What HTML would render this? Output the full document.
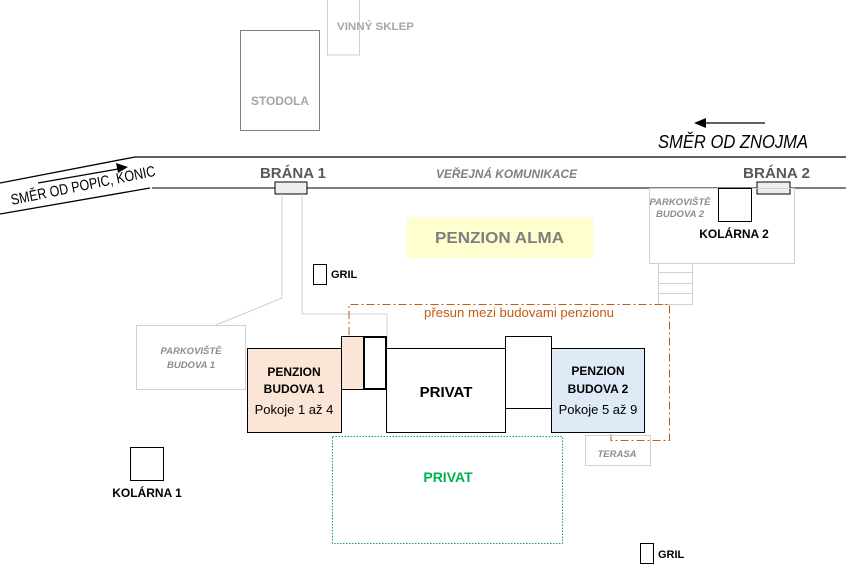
<!DOCTYPE html>
<html><head><meta charset="utf-8"><style>
html,body{margin:0;padding:0;background:#fff;width:846px;height:585px;overflow:hidden}
svg{display:block;font-family:"Liberation Sans",sans-serif}
</style></head><body>
<svg width="846" height="585" viewBox="0 0 846 585" xmlns="http://www.w3.org/2000/svg">
<rect x="240.5" y="30.5" width="79" height="100" fill="none" stroke="#7f7f7f" stroke-width="1"/>
<text x="251" y="105" font-size="12" font-weight="bold" fill="#a6a6a6" textLength="58" lengthAdjust="spacingAndGlyphs">STODOLA</text>
<rect x="327.5" y="-2" width="32" height="57" fill="none" stroke="#d0d0d0"/>
<text x="337" y="30" font-size="11" font-weight="bold" fill="#a6a6a6" textLength="77" lengthAdjust="spacingAndGlyphs">VINNÝ SKLEP</text>

<polyline points="0,183 135,157 846,157" fill="none" stroke="#000" stroke-width="1.3"/>
<line x1="0" y1="214" x2="150" y2="188" stroke="#000" stroke-width="1.3"/>
<line x1="152" y1="188" x2="846" y2="188" stroke="#7f7f7f" stroke-width="2"/>
<line x1="38" y1="183" x2="118" y2="169" stroke="#000" stroke-width="1.3"/>
<polygon points="128,167 116,163 118,173" fill="#000"/>
<text transform="translate(12,205) rotate(-11.5)" font-size="15" fill="#000" textLength="147" lengthAdjust="spacingAndGlyphs">SMĚR OD POPIC, KONIC</text>
<line x1="703" y1="123" x2="765" y2="123" stroke="#000" stroke-width="1.3"/>
<polygon points="694,123 706,118 706,128" fill="#000"/>
<text x="658" y="148" font-size="18" font-style="italic" fill="#000" textLength="150" lengthAdjust="spacingAndGlyphs">SMĚR OD ZNOJMA</text>
<text x="436" y="178" font-size="12" font-style="italic" font-weight="bold" fill="#7f7f7f" textLength="141" lengthAdjust="spacingAndGlyphs">VEŘEJNÁ KOMUNIKACE</text>

<text x="260" y="178" font-size="15" font-weight="bold" fill="#595959" textLength="66" lengthAdjust="spacingAndGlyphs">BRÁNA 1</text>
<rect x="275" y="182" width="32" height="12" fill="#eee" stroke="#000"/>
<text x="743" y="178" font-size="15" font-weight="bold" fill="#595959" textLength="67" lengthAdjust="spacingAndGlyphs">BRÁNA 2</text>
<rect x="757" y="182" width="33" height="12" fill="#eee" stroke="#000"/>

<polyline points="282,194 282,298 216,325" fill="none" stroke="#d0d0d0"/>
<polyline points="302,194 302,314 387,314 387,348" fill="none" stroke="#d0d0d0"/>

<rect x="407" y="217" width="186" height="41" fill="#fefecf"/>
<text x="435" y="243" font-size="16" font-weight="bold" fill="#7f7f7f" textLength="129" lengthAdjust="spacingAndGlyphs">PENZION ALMA</text>

<rect x="649.5" y="188.5" width="145" height="75" fill="none" stroke="#d0d0d0"/>
<text x="680" y="205" text-anchor="middle" font-size="9.5" font-style="italic" font-weight="bold" fill="#8c8c8c">PARKOVIŠTĚ</text>
<text x="680" y="217" text-anchor="middle" font-size="9.5" font-style="italic" font-weight="bold" fill="#8c8c8c">BUDOVA 2</text>
<rect x="718.5" y="188.5" width="33" height="33" fill="#fff" stroke="#000"/>
<text x="734" y="238" text-anchor="middle" font-size="12" font-weight="bold" fill="#000">KOLÁRNA 2</text>
<rect x="658.5" y="263.5" width="34" height="41" fill="none" stroke="#d0d0d0"/>
<line x1="658" y1="272.5" x2="692" y2="272.5" stroke="#d0d0d0"/>
<line x1="658" y1="283.5" x2="692" y2="283.5" stroke="#d0d0d0"/>
<line x1="658" y1="293.5" x2="692" y2="293.5" stroke="#d0d0d0"/>

<rect x="313.5" y="264.5" width="13" height="20" fill="none" stroke="#000"/>
<text x="331" y="278" font-size="11" font-weight="bold" fill="#000">GRIL</text>
<rect x="640.5" y="543.5" width="13" height="20" fill="none" stroke="#000"/>
<text x="658" y="558" font-size="11" font-weight="bold" fill="#000">GRIL</text>

<polyline points="349,335 349,304.5 669.5,304.5 669.5,440.5 611,440.5 611,433" fill="none" stroke="#c55a11" stroke-width="1" stroke-dasharray="8,3,2,3"/>
<text x="424" y="317" font-size="13" fill="#c55a11" textLength="190" lengthAdjust="spacingAndGlyphs">přesun mezi budovami penzionu</text>

<rect x="136.5" y="325.5" width="109" height="64" fill="none" stroke="#d0d0d0"/>
<text x="191" y="354" text-anchor="middle" font-size="9.5" font-style="italic" font-weight="bold" fill="#8c8c8c">PARKOVIŠTĚ</text>
<text x="191" y="368" text-anchor="middle" font-size="9.5" font-style="italic" font-weight="bold" fill="#8c8c8c">BUDOVA 1</text>
<rect x="130.5" y="447.5" width="33" height="33" fill="none" stroke="#000"/>
<text x="147" y="497" text-anchor="middle" font-size="12" font-weight="bold" fill="#000">KOLÁRNA 1</text>

<rect x="341.5" y="336.5" width="23" height="53" fill="#fbe5d6" stroke="#000"/>
<rect x="364" y="337" width="22" height="52" fill="#fff" stroke="#000" stroke-width="2"/>
<rect x="247.5" y="348.5" width="94" height="84" fill="#fbe5d6" stroke="#000"/>
<text x="294" y="376" text-anchor="middle" font-size="12" font-weight="bold" fill="#000">PENZION</text>
<text x="294" y="393" text-anchor="middle" font-size="12" font-weight="bold" fill="#000">BUDOVA 1</text>
<text x="294" y="414" text-anchor="middle" font-size="13" fill="#000">Pokoje 1 až 4</text>
<rect x="386.5" y="348.5" width="119" height="84" fill="#fff" stroke="#000"/>
<text x="446" y="397" text-anchor="middle" font-size="15" font-weight="bold" fill="#000">PRIVAT</text>
<rect x="505.5" y="336.5" width="46" height="72" fill="#fff" stroke="#000"/>
<rect x="551.5" y="348.5" width="93" height="84" fill="#deebf7" stroke="#000"/>
<text x="598" y="375" text-anchor="middle" font-size="12" font-weight="bold" fill="#000">PENZION</text>
<text x="598" y="393" text-anchor="middle" font-size="12" font-weight="bold" fill="#000">BUDOVA 2</text>
<text x="598" y="414" text-anchor="middle" font-size="13" fill="#000">Pokoje 5 až 9</text>

<rect x="585.5" y="435.5" width="65" height="30" fill="none" stroke="#d0d0d0"/>
<text x="617" y="457" text-anchor="middle" font-size="9.5" font-style="italic" font-weight="bold" fill="#8c8c8c">TERASA</text>

<rect x="332.5" y="436.5" width="230" height="107" fill="none" stroke="#00b050" stroke-dasharray="1.5,1.5"/>
<text x="448" y="482" text-anchor="middle" font-size="14" font-weight="bold" fill="#00b050">PRIVAT</text>
</svg>
</body></html>
